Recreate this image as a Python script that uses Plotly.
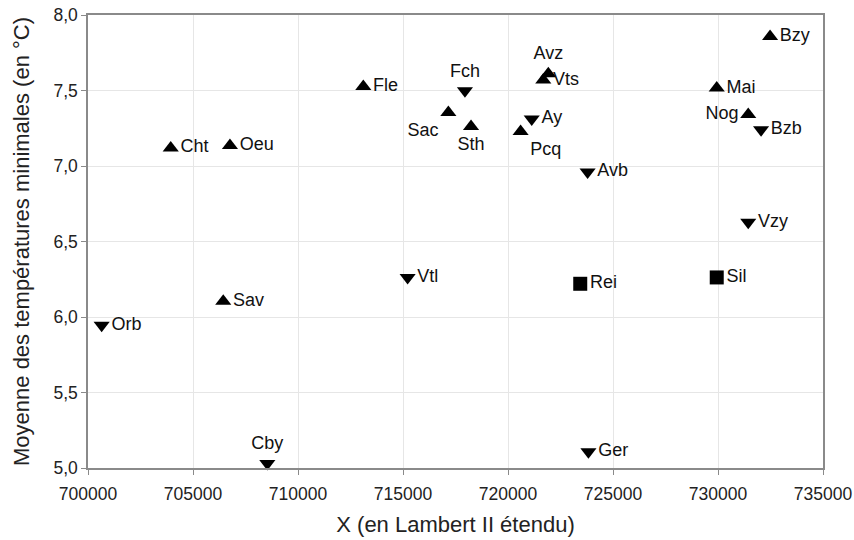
import plotly.graph_objects as go

# stations: Lambert II X, mean minimum temperature, marker kind
names = ["Cht", "Oeu", "Fle", "Fch", "Sac", "Sth", "Avz", "Vts", "Ay", "Pcq",
         "Bzy", "Mai", "Nog", "Bzb", "Avb", "Vzy", "Sil", "Rei", "Vtl", "Sav",
         "Orb", "Cby", "Ger"]
x_lambert = [703940, 706760, 713110, 717950, 717160, 718240, 721920, 721680,
             721130, 720600, 732480, 729940, 731440, 732050, 723790, 731440,
             729940, 723440, 715220, 706440, 700650, 708540, 723830]
t_min = [7.12, 7.135, 7.527, 7.498, 7.354, 7.261, 7.611, 7.569, 7.312, 7.228,
         7.857, 7.516, 7.341, 7.24, 6.961, 6.627, 6.262, 6.22, 6.262, 6.105,
         5.946, 5.03, 5.107]
kind = ["up", "up", "up", "down", "up", "up", "up", "up", "down", "up",
        "up", "up", "up", "down", "down", "down", "square", "square", "down", "up",
        "down", "down", "down"]

label_pos = {"Fch": "top center", "Avz": "top center", "Cby": "top center",
             "Sac": "bottom left", "Sth": "bottom center", "Pcq": "bottom right",
             "Nog": "middle left"}

symbols = {"up": ("triangle-up", 14), "down": ("triangle-down", 14),
           "square": ("square", 14)}

FONT = "Liberation Sans, Arial, sans-serif"

fig = go.Figure()
for k, (sym, size) in symbols.items():
    idx = [i for i, v in enumerate(kind) if v == k]
    fig.add_trace(go.Scatter(
        x=[x_lambert[i] for i in idx], y=[t_min[i] for i in idx],
        text=[names[i] for i in idx], mode="markers+text",
        textposition=[label_pos.get(names[i], "middle right") for i in idx],
        textfont=dict(family=FONT, size=18, color="#111"),
        marker=dict(symbol=sym, size=size, color="#000"),
        showlegend=False, cliponaxis=False))

axis_common = dict(showgrid=True, gridcolor="#e6e6e6", gridwidth=1,
                   showline=True, linecolor="#8a8a8a", linewidth=1.5, mirror=True,
                   ticks="outside", ticklen=5, tickcolor="#8a8a8a",
                   tickfont=dict(family=FONT, size=17.5, color="#222"),
                   zeroline=False)

fig.update_xaxes(range=[700000, 735000], dtick=5000, tickformat="d",
                 ticklabelstandoff=4,
                 title=dict(text="X (en Lambert II étendu)", standoff=14,
                            font=dict(family=FONT, size=22, color="#222")),
                 **axis_common)
fig.update_yaxes(range=[5.0, 8.0], dtick=0.5, tickformat=".1f",
                 title=dict(text="Moyenne des températures minimales (en °C)",
                            standoff=18,
                            font=dict(family=FONT, size=22, color="#222")),
                 **axis_common)

fig.update_layout(width=854, height=540, separators=", ",
                  paper_bgcolor="white", plot_bgcolor="white",
                  margin=dict(l=88, r=31, t=15, b=72, autoexpand=False))

fig.write_html("out.html", config={"displayModeBar": False},
               post_script="document.body.style.margin='0';")
